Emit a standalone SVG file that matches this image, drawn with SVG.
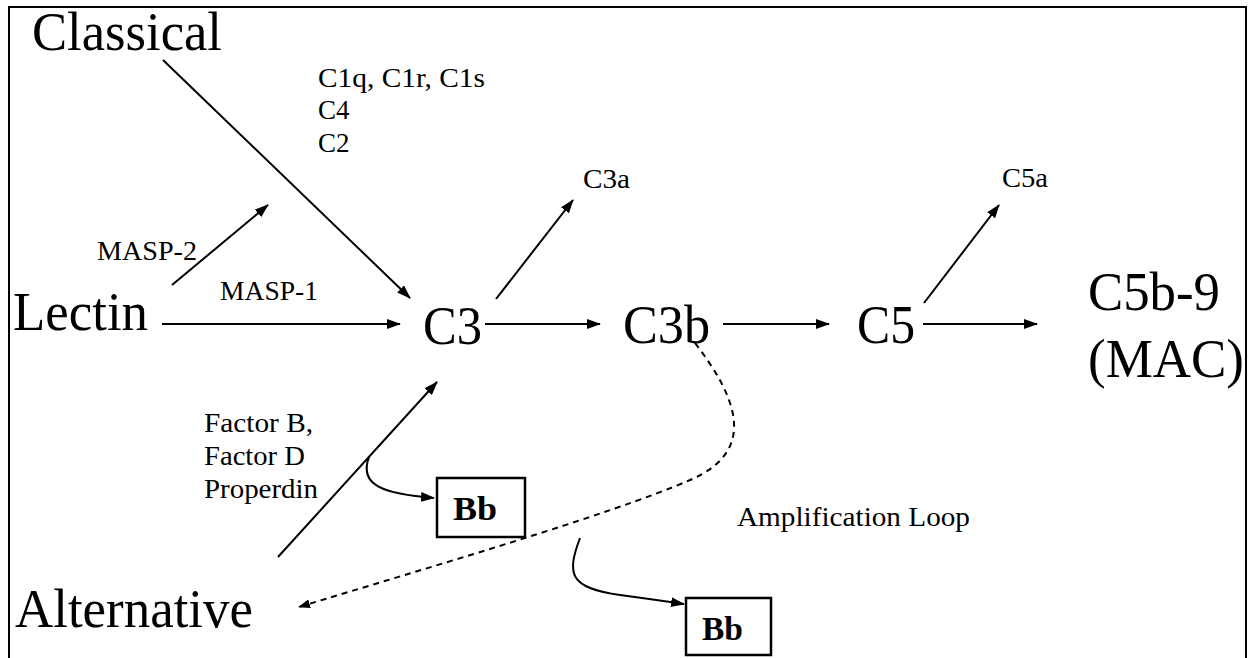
<svg xmlns="http://www.w3.org/2000/svg" width="1255" height="658" viewBox="0 0 1255 658">
<defs>
<marker id="ah" viewBox="0 0 14 10" refX="13" refY="5" markerWidth="14" markerHeight="10" markerUnits="userSpaceOnUse" orient="auto">
<path d="M0,0 L14,5 L0,10 Z" fill="#000"/>
</marker>
<marker id="ahs" viewBox="0 0 12 9" refX="11" refY="4.5" markerWidth="12" markerHeight="9" markerUnits="userSpaceOnUse" orient="auto">
<path d="M0,0 L12,4.5 L0,9 Z" fill="#000"/>
</marker>
</defs>
<style>
text{font-family:"Liberation Serif","Times New Roman",serif;fill:#000}
.big{font-size:54px}
.sm{font-size:27px}
.bb{font-size:34px;font-weight:bold}
.ln{stroke:#000;stroke-width:2;fill:none}
.box{fill:#fff;stroke:#000;stroke-width:2.5}
</style>
<rect width="1255" height="658" fill="#fff"/>
<path d="M9,658 L9,7 L1246,7 L1246,658" fill="none" stroke="#000" stroke-width="2"/>

<g id="connectors">
<line class="ln" x1="163" y1="60" x2="410" y2="298" marker-end="url(#ah)"/>
<line class="ln" x1="172" y1="285" x2="268" y2="205" marker-end="url(#ah)"/>
<line class="ln" x1="162" y1="324" x2="400" y2="324" marker-end="url(#ah)"/>
<line class="ln" x1="485" y1="324" x2="600" y2="324" marker-end="url(#ah)"/>
<line class="ln" x1="496" y1="299" x2="573" y2="200" marker-end="url(#ah)"/>
<line class="ln" x1="723" y1="324" x2="829" y2="324" marker-end="url(#ah)"/>
<line class="ln" x1="923" y1="324" x2="1037" y2="324" marker-end="url(#ah)"/>
<line class="ln" x1="924" y1="303" x2="999" y2="205" marker-end="url(#ah)"/>
<line class="ln" x1="278" y1="557" x2="437" y2="382" marker-end="url(#ah)"/>
<path class="ln" d="M369,457 C358,486 385,494 434,498" marker-end="url(#ah)"/>
<path class="ln" d="M580,538 C566,575 570,588 620,595 Q650,599 684,604" marker-end="url(#ah)"/>
<path class="ln" d="M695,343 C735,395 760,450 690,480 C610,515 420,570 299,607" stroke-width="2.2" stroke-dasharray="6,5" marker-end="url(#ahs)"/>
</g>

<g id="classical"><text class="big" x="32" y="50" textLength="190" lengthAdjust="spacingAndGlyphs">Classical</text></g>
<g id="classical-label">
<text class="sm" x="318" y="87" textLength="167" lengthAdjust="spacingAndGlyphs">C1q, C1r, C1s</text>
<text class="sm" x="318" y="119">C4</text>
<text class="sm" x="318" y="152">C2</text>
</g>
<g id="masp2"><text class="sm" x="97" y="260" textLength="100" lengthAdjust="spacingAndGlyphs">MASP-2</text></g>
<g id="masp1"><text class="sm" x="220" y="300" textLength="98" lengthAdjust="spacingAndGlyphs">MASP-1</text></g>
<g id="lectin"><text class="big" x="13" y="330" textLength="135" lengthAdjust="spacingAndGlyphs">Lectin</text></g>
<g id="c3"><text class="big" x="423" y="344" textLength="59" lengthAdjust="spacingAndGlyphs">C3</text></g>
<g id="c3a"><text class="sm" x="583" y="188" textLength="47" lengthAdjust="spacingAndGlyphs">C3a</text></g>
<g id="c3b"><text class="big" x="623" y="343" textLength="87" lengthAdjust="spacingAndGlyphs">C3b</text></g>
<g id="c5"><text class="big" x="857" y="343" textLength="58" lengthAdjust="spacingAndGlyphs">C5</text></g>
<g id="c5a"><text class="sm" x="1002" y="187" textLength="46" lengthAdjust="spacingAndGlyphs">C5a</text></g>
<g id="mac">
<text class="big" x="1088" y="310" textLength="132" lengthAdjust="spacingAndGlyphs">C5b-9</text>
<text class="big" x="1088" y="377" textLength="156" lengthAdjust="spacingAndGlyphs">(MAC)</text>
</g>
<g id="alt-label">
<text class="sm" x="204" y="432" textLength="109" lengthAdjust="spacingAndGlyphs">Factor B,</text>
<text class="sm" x="204" y="465" textLength="101" lengthAdjust="spacingAndGlyphs">Factor D</text>
<text class="sm" x="204" y="498" textLength="114" lengthAdjust="spacingAndGlyphs">Properdin</text>
</g>
<g id="bb1">
<rect class="box" x="437" y="478" width="88" height="59"/>
<text class="bb" x="453" y="520" textLength="44" lengthAdjust="spacingAndGlyphs">Bb</text>
</g>
<g id="amp"><text class="sm" x="737" y="526" textLength="233" lengthAdjust="spacingAndGlyphs">Amplification Loop</text></g>
<g id="bb2">
<rect class="box" x="686" y="598" width="85" height="57"/>
<text class="bb" x="702" y="640" textLength="41" lengthAdjust="spacingAndGlyphs">Bb</text>
</g>
<g id="alternative"><text class="big" x="15" y="627" textLength="238" lengthAdjust="spacingAndGlyphs">Alternative</text></g>
</svg>
